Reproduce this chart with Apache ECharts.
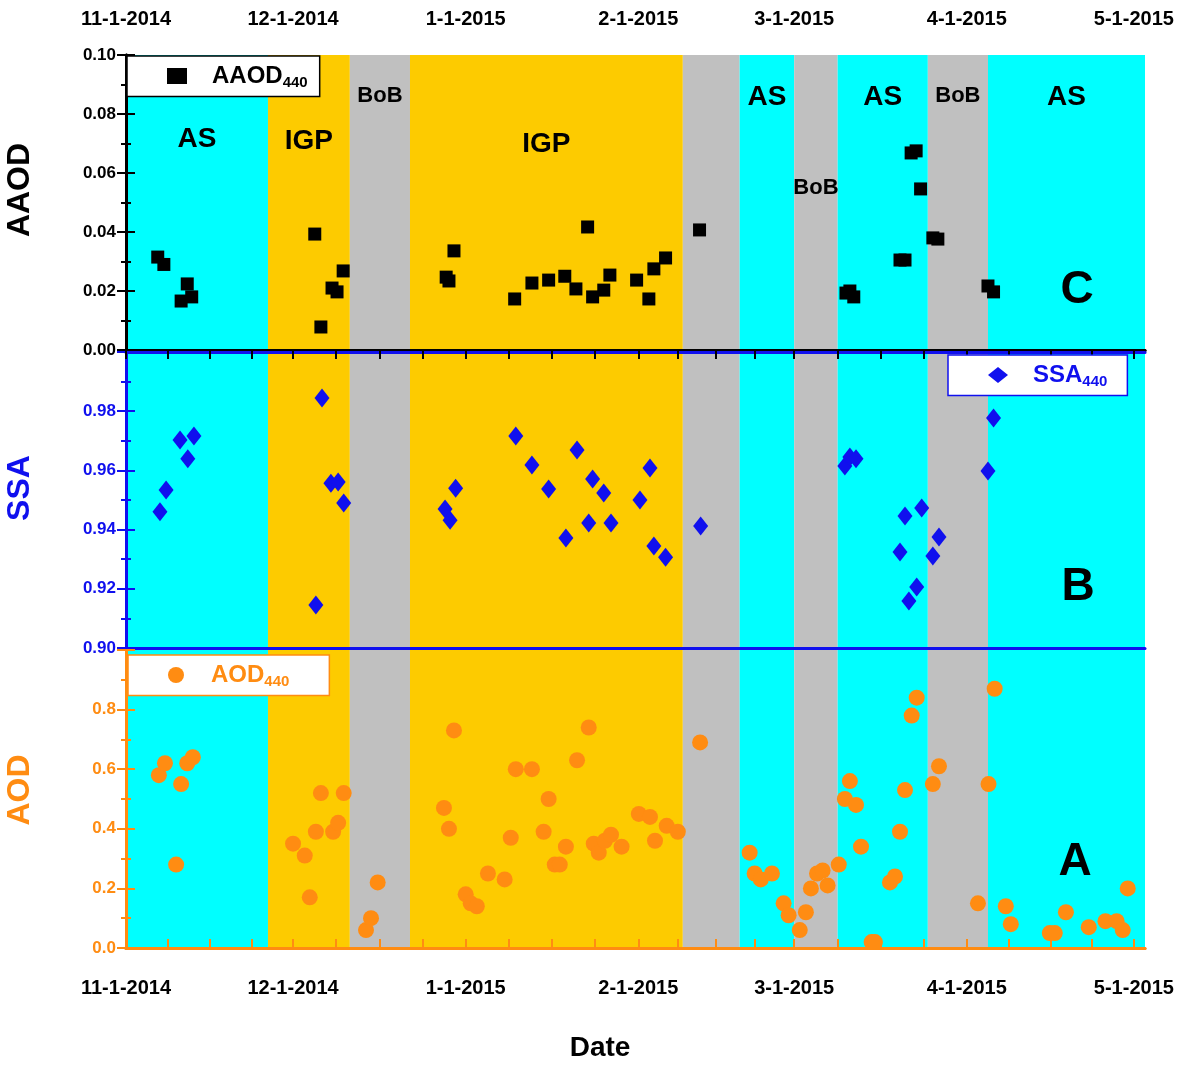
<!DOCTYPE html>
<html><head><meta charset="utf-8">
<script src="https://cdn.jsdelivr.net/npm/echarts@6/dist/echarts.min.js"></script>
<style>html,body{margin:0;padding:0;background:#fff}#c{width:1200px;height:1068px}</style>
</head><body><div id="c"></div>
<script>
// x values are days since 11-1-2014
const monthDays = [0, 30, 61, 92, 120, 151, 181];
const monthLabels = ['11-1-2014', '12-1-2014', '1-1-2015', '2-1-2015', '3-1-2015', '4-1-2015', '5-1-2015'];
// bands: [start day, end day, region]
const bands = [[0,25.5,'AS'],[25.5,40.2,'IGP'],[40.2,51,'BoB'],[51,100,'IGP'],[100,110.2,'BoB'],[110.2,120,'AS'],[120,127.8,'BoB'],[127.8,144,'AS'],[144,154.8,'BoB'],[154.8,183,'AS']];
const bandLabels = ['AS','IGP','BoB','IGP','','AS','BoB','AS','BoB','AS'];
const aaod = [[5.7,0.0315],[6.8,0.029],[9.9,0.0166],[11,0.0224],[11.8,0.018],[33.9,0.0393],[35,0.0078],[37,0.021],[37.9,0.0197],[39,0.0268],
[57.5,0.0247],[58,0.0234],[58.9,0.0336],[69.8,0.0173],[72.9,0.0227],[75.9,0.0237],[78.8,0.025],[80.8,0.0207],[82.9,0.0417],[83.8,0.018],
[85.8,0.0203],[86.9,0.0254],[91.7,0.0237],[93.9,0.0173],[94.8,0.0275],[96.9,0.0312],[103,0.0407],[129.3,0.0193],[130,0.02],[130.7,0.018],
[139,0.0305],[139.9,0.0305],[141,0.0668],[141.9,0.0675],[142.7,0.0546],[144.9,0.038],[145.8,0.0376],[154.8,0.0217],[155.8,0.0197]];
const ssa = [[6.1,0.946],[7.2,0.9534],[9.7,0.9703],[11.1,0.9639],[12.2,0.9716],[34.1,0.9145],[35.2,0.9845],[36.8,0.9557],[38.1,0.9561],[39.1,0.949],
[57.3,0.947],[58.2,0.9432],[59.2,0.954],[70,0.9716],[72.9,0.9618],[75.9,0.9537],[79,0.9372],[81,0.9669],[83.1,0.9422],[83.8,0.9571],
[85.8,0.9524],[87.1,0.9422],[92.3,0.95],[94.1,0.9608],[94.8,0.9345],[96.9,0.9307],[103.2,0.9412],[129.1,0.9615],[130,0.9645],[131.1,0.9639],
[139,0.9324],[139.9,0.9446],[140.6,0.9159],[142,0.9206],[142.9,0.9473],[144.9,0.9311],[146,0.9375],[154.8,0.9598],[155.8,0.9777]];
const aod = [[5.9,0.58],[7,0.62],[9,0.28],[9.9,0.55],[11,0.62],[12,0.64],[30,0.35],[32.1,0.31],[33,0.17],[34.1,0.39],[35,0.52],[37.2,0.39],[38.1,0.42],[39.1,0.52],
[43.1,0.06],[44,0.10],[45.2,0.22],[57.1,0.47],[58,0.40],[58.9,0.73],[61,0.18],[61.9,0.15],[63,0.14],[65,0.25],[68,0.23],[69.1,0.37],[70,0.60],[72.9,0.60],
[75,0.39],[75.9,0.50],[77,0.28],[77.9,0.28],[79,0.34],[81,0.63],[83.1,0.74],[84,0.35],[84.9,0.32],[86,0.36],[87.1,0.38],[89,0.34],[92.1,0.45],[94.1,0.44],
[95,0.36],[97.1,0.41],[99.1,0.39],[103.1,0.69],[112,0.32],[112.9,0.25],[114,0.23],[116,0.25],[118.1,0.15],[119,0.11],[121,0.06],[122.1,0.12],[123,0.20],
[124.1,0.25],[125.1,0.26],[126,0.21],[128,0.28],[129.1,0.50],[130,0.56],[131.1,0.48],[132,0.34],[133.9,0.02],[134.5,0.02],[137.2,0.22],[138.1,0.24],
[139,0.39],[139.9,0.53],[141.1,0.78],[142,0.84],[144.9,0.55],[146,0.61],[153,0.15],[154.9,0.55],[156,0.87],[158,0.14],[158.9,0.08],[165.9,0.05],
[166.8,0.05],[168.8,0.12],[172.9,0.07],[175.9,0.09],[177.9,0.09],[179,0.06],[179.9,0.20]];

const bandColor = {AS:'#00FFFF', IGP:'#FDCB00', BoB:'#C0C0C0'};
const ticks = [];
for (let i = 0; i < monthDays.length - 1; i++) {
  const s = monthDays[i], len = monthDays[i+1] - s;
  for (let k = 0; k < 4; k++) ticks.push(s + k * len / 4);
}
ticks.push(181);
const FONT = 'Arial, Liberation Sans, sans-serif';
const colors = ['#000000', '#1010EE', '#FF8C12'];
const grids = [
  {left:126, right:55, top:55, height:295},
  {left:126, right:55, top:352, height:296},
  {left:126, right:55, top:650, height:298}
];
const xAxis = [], yAxis = [];
grids.forEach((g, i) => {
  ['bottom','top'].forEach(pos => {
    const showLab = (i === 2 && pos === 'bottom') || (i === 0 && pos === 'top');
    xAxis.push({type:'value', gridIndex:i, position:pos, min:0, max:183, z:20,
      axisLine:{show:true, lineStyle:{color:colors[i], width:3}},
      axisTick:{show:showLab, inside:true, length:9, customValues:ticks, lineStyle:{color:colors[i], width:2}},
      axisLabel:{show:showLab, customValues:monthDays, color:'#000', fontWeight:'bold', fontSize:20, fontFamily:FONT,
        margin: pos === 'top' ? 26 : 30,
        formatter: v => monthLabels[monthDays.indexOf(v)] || ''},
      splitLine:{show:false}});
  });
});
const yCfg = [
  {min:0, max:0.1, interval:0.02, fmt: v => v.toFixed(2)},
  {min:0.9, max:1.0, interval:0.02, fmt: v => v >= 0.999 ? '' : v.toFixed(2)},
  {min:0, max:1.0, interval:0.2, fmt: v => v >= 0.99 ? '' : v.toFixed(1)}
];
yCfg.forEach((c, i) => {
  ['left','right'].forEach(pos => {
    yAxis.push({type:'value', gridIndex:i, position:pos, min:c.min, max:c.max, interval:c.interval, z:20,
      axisLine:{show:true, lineStyle:{color:colors[i], width:3}},
      axisTick:{show:true, inside:true, length:9, lineStyle:{color:colors[i], width:2}},
      minorTick:{show:true, splitNumber:2, length:5, lineStyle:{color:colors[i], width:2}},
      axisLabel:{show: pos === 'left', color: colors[i], fontWeight:'bold', fontSize:17, fontFamily:FONT, margin:10, formatter:c.fmt},
      splitLine:{show:false}});
  });
});
function areas(withLabels) {
  return bands.map((b, j) => {
    const lab = bandLabels[j];
    const isBoB = lab === 'BoB';
    let dist = 70;
    if (isBoB) dist = (j === 6) ? 122 : 30;
    if (lab === 'AS' && j >= 5) dist = 28;
    if (lab === 'IGP') dist = j === 1 ? 72 : 75;
    return [{xAxis:b[0], itemStyle:{color:bandColor[b[2]]},
      label:{show: withLabels && !!lab, formatter: lab, position:'insideTop', distance: dist,
        color:'#000', fontWeight:'bold', fontSize: isBoB ? 22 : 28, fontFamily:FONT}},
      {xAxis:b[1]}];
  });
}
const series = [
  {name:'AAOD', type:'scatter', xAxisIndex:0, yAxisIndex:0, data:aaod, symbol:'rect', symbolSize:13, itemStyle:{color:'#000', opacity:1},
    markArea:{silent:true, data:areas(true)}, z:5},
  {name:'SSA', type:'scatter', xAxisIndex:2, yAxisIndex:2, data:ssa, symbol:'diamond', symbolSize:[15,19], itemStyle:{color:'#1010EE', opacity:1},
    markArea:{silent:true, data:areas(false)}, z:5},
  {name:'AOD', type:'scatter', xAxisIndex:4, yAxisIndex:4, data:aod, symbol:'circle', symbolSize:16, itemStyle:{color:'#FF8C12', opacity:1},
    markArea:{silent:true, data:areas(false)}, z:5}
];
const leg = (name, sub, color, border, pos, padR) => Object.assign({
  data:[name], backgroundColor:'#fff', borderColor:border, borderWidth:1.5, borderRadius:0,
  padding:[8,padR,6,40], itemGap:0, itemWidth:20, itemHeight:16, z:30,
  formatter: () => '{a|' + name + '}{b|' + sub + '}',
  textStyle:{rich:{a:{fontSize:24, fontWeight:'bold', color:color, fontFamily:FONT, padding:[0,0,0,20]},
    b:{fontSize:15, fontWeight:'bold', color:color, fontFamily:FONT, verticalAlign:'bottom', padding:[14,0,0,0]}}}
}, pos);
const chart = echarts.init(document.getElementById('c'));
chart.setOption({
  animation:false,
  grid: grids,
  xAxis, yAxis, series,
  legend: [
    leg('AAOD','440','#000','#000',{left:127, top:56}, 12),
    leg('SSA','440','#1010EE','#1010EE',{left:948, top:355}, 20),
    leg('AOD','440','#FF8C12','#FF8C12',{left:128, top:655}, 40)
  ],
  graphic: [
    {type:'text', left:'center', top:1034, style:{text:'Date', font:'bold 28px ' + FONT, fill:'#000'}},
    {type:'text', x:20, y:190, rotation:Math.PI/2, style:{text:'AAOD', font:'bold 32px ' + FONT, fill:'#000', align:'center', verticalAlign:'middle'}},
    {type:'text', x:20, y:488, rotation:Math.PI/2, style:{text:'SSA', font:'bold 32px ' + FONT, fill:'#1010EE', align:'center', verticalAlign:'middle'}},
    {type:'text', x:20, y:790, rotation:Math.PI/2, style:{text:'AOD', font:'bold 32px ' + FONT, fill:'#FF8C12', align:'center', verticalAlign:'middle'}},
    {type:'text', x:1077, y:290, z:10, style:{text:'C', font:'bold 46px ' + FONT, fill:'#000', align:'center', verticalAlign:'middle'}},
    {type:'text', x:1078, y:587, z:10, style:{text:'B', font:'bold 46px ' + FONT, fill:'#000', align:'center', verticalAlign:'middle'}},
    {type:'text', x:1075, y:862, z:10, style:{text:'A', font:'bold 46px ' + FONT, fill:'#000', align:'center', verticalAlign:'middle'}}
  ]
});
</script></body></html>
